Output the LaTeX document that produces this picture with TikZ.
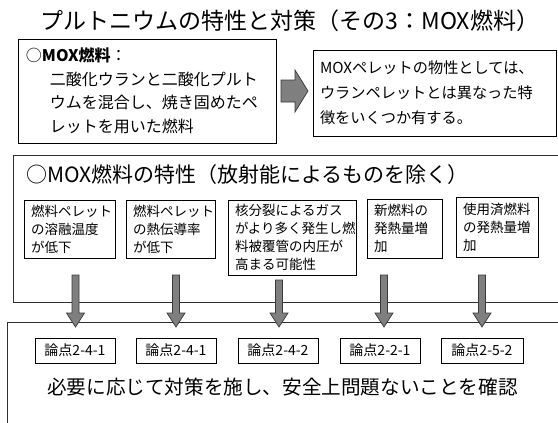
\documentclass[tikz,border=0pt]{standalone}
\usepackage{fontspec}
\setmainfont{Noto Sans CJK JP}
\usetikzlibrary{calc}
\definecolor{arrowfill}{HTML}{7F7F7F}
\definecolor{arrowline}{HTML}{3A3A3A}
\definecolor{framecol}{HTML}{303030}
\tikzset{
  frame/.style={draw=framecol, line width=0.8pt, inner sep=0pt, outer sep=0pt, anchor=north west},
  tbox/.style={draw=black, line width=0.8pt, anchor=north west, inner xsep=7pt, inner ysep=0pt, outer sep=0pt, align=left},
  charbox/.style={tbox, font=\fontsize{13.5}{18}\selectfont},
  ronbox/.style={draw=black, line width=0.8pt, anchor=north west, inner sep=0pt, outer sep=0pt, minimum width=80pt, minimum height=25pt, font=\fontsize{14}{16}\selectfont},
  fat/.style={fill=arrowfill, draw=arrowline, line width=0.7pt, line join=miter},
}
\newcommand{\fatdown}[2]{\draw[fat] ($(#1)+(-3.5,0)$) -- ($(#2)+(-3.5,-14)$) -- ($(#2)+(-9,-14)$) -- (#2) -- ($(#2)+(9,-14)$) -- ($(#2)+(3.5,-14)$) -- ($(#1)+(3.5,0)$) -- cycle;}
\begin{document}
\begin{tikzpicture}[x=1pt,y=-1pt]
\clip (0,0) rectangle (558,423);
\fill[white] (0,0) rectangle (558,423);

% title
\node[font=\fontsize{23}{26}\selectfont, inner sep=0pt] (title) at (290,21) {プルトニウムの特性と対策（その3：MOX燃料）};

% top boxes
\node[tbox, inner xsep=8pt, minimum width=258pt, minimum height=104pt, text width=242pt, font=\fontsize{16}{23.5}\selectfont] (mox) at (18,39)
 {○\textbf{MOX燃料}：\\\hspace*{24pt}二酸化ウランと二酸化プルト\\\hspace*{24pt}ウムを混合し、焼き固めたペ\\\hspace*{24pt}レットを用いた燃料};
\node[tbox, minimum width=243pt, minimum height=86pt, text width=229pt, font=\fontsize{15.2}{25}\selectfont] (prop) at (313,50)
 {MOXペレットの物性としては、\\ウランペレットとは異なった特\\徴をいくつか有する。};
\coordinate (ma) at (281,91);
\coordinate (mb) at (308,91);
\draw[fat] ($(ma)+(0,-11)$) -- ($(mb)+(-13,-11)$) -- ($(mb)+(-13,-21)$) -- (mb) -- ($(mb)+(-13,21)$) -- ($(mb)+(-13,11)$) -- ($(ma)+(0,11)$) -- cycle;

% big box
\node[frame, minimum width=560pt, minimum height=147pt] (big) at (13,155) {};
\node[anchor=west, inner sep=0pt, font=\fontsize{21}{24}\selectfont] (head) at (26,175) {○MOX燃料の特性（放射能によるものを除く）};

\node[charbox, minimum width=91pt, minimum height=58pt, text width=77pt] (c1) at (24,200) {燃料ペレット\\の溶融温度\\が低下};
\node[charbox, minimum width=89pt, minimum height=58pt, text width=75pt] (c2) at (126,200) {燃料ペレット\\の熱伝導率\\が低下};
\node[charbox, minimum width=128pt, minimum height=75pt, text width=114pt] (c3) at (228,200) {核分裂によるガス\\がより多く発生し燃\\料被覆管の内圧が\\高まる可能性};
\node[charbox, minimum width=75pt, minimum height=59pt, text width=61pt] (c4) at (367,199) {新燃料の\\発熱量増\\加};
\node[charbox, minimum width=82pt, minimum height=60pt, text width=68pt] (c5) at (456,197) {使用済燃料\\の発熱量増\\加};

% bottom box
\node[frame, minimum width=560pt, minimum height=120pt] (bottom) at (7,322) {};
\node[ronbox] (r1) at (35,338) {論点2-4-1};
\node[ronbox] (r2) at (136,338) {論点2-4-1};
\node[ronbox] (r3) at (238,338) {論点2-4-2};
\node[ronbox] (r4) at (340,338) {論点2-2-1};
\node[ronbox, minimum width=82pt] (r5) at (441,338) {論点2-5-2};
\node[inner sep=0pt, font=\fontsize{19.6}{22}\selectfont] (concl) at (282.5,387) {必要に応じて対策を施し、安全上問題ないことを確認};

% arrows
\coordinate (s1) at (75.5,275);  \coordinate (t1) at (75.5,327);
\coordinate (s2) at (176,275);   \coordinate (t2) at (176,327);
\coordinate (s3) at (279,280);   \coordinate (t3) at (279,327);
\coordinate (s4) at (384,275);   \coordinate (t4) at (384,327);
\coordinate (s5) at (482,275);   \coordinate (t5) at (482,327);
\fatdown{s1}{t1}
\fatdown{s2}{t2}
\fatdown{s3}{t3}
\fatdown{s4}{t4}
\fatdown{s5}{t5}
\end{tikzpicture}
\end{document}
